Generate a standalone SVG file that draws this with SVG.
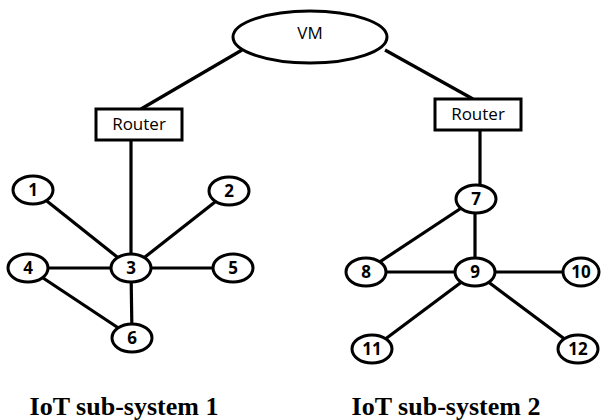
<svg xmlns="http://www.w3.org/2000/svg" width="602" height="420" viewBox="0 0 602 420">
  <style>
    .link { stroke: #000; stroke-width: 3.2; fill: none; }
    .shape { fill: #fff; stroke: #000; stroke-width: 3; }
    .lbl { font-family: "Open Sans", "Liberation Sans", Arial, sans-serif; font-size: 17px; text-anchor: middle; fill: #000; }
    .num { font-family: "Open Sans", "Liberation Sans", Arial, sans-serif; font-size: 17px; font-weight: bold; text-anchor: middle; fill: #000; }
    .cap { font-family: "Liberation Serif", "Times New Roman", serif; font-size: 26px; font-weight: bold; text-anchor: middle; fill: #000; }
  </style>
  <rect width="602" height="420" fill="#fff"/>

  <!-- connectors -->
  <g id="connectors">
    <line class="link" x1="242" y1="50" x2="141" y2="109"/>
    <line class="link" x1="385" y1="50" x2="473" y2="99"/>
    <line class="link" x1="131" y1="140" x2="131" y2="268"/>
    <line class="link" x1="33" y1="190" x2="131" y2="268"/>
    <line class="link" x1="229" y1="191" x2="131" y2="268"/>
    <line class="link" x1="28" y1="268" x2="233" y2="268"/>
    <line class="link" x1="131" y1="268" x2="132" y2="337"/>
    <line class="link" x1="28" y1="268" x2="132" y2="337"/>
    <line class="link" x1="480" y1="130" x2="480" y2="190"/>
    <line class="link" x1="475" y1="199" x2="475" y2="272"/>
    <line class="link" x1="475" y1="199" x2="366" y2="271"/>
    <line class="link" x1="366" y1="272" x2="580" y2="272"/>
    <line class="link" x1="475" y1="272" x2="372" y2="349"/>
    <line class="link" x1="475" y1="272" x2="578" y2="349"/>
  </g>

  <!-- VM -->
  <g id="vm">
    <ellipse class="shape" cx="310" cy="37" rx="77" ry="26"/>
    <text class="lbl" x="310" y="39">VM</text>
  </g>

  <!-- routers -->
  <g id="router1">
    <rect class="shape" x="96" y="109" width="86" height="31"/>
    <text class="lbl" x="139" y="130">Router</text>
  </g>
  <g id="router2">
    <rect class="shape" x="435" y="99" width="86" height="31"/>
    <text class="lbl" x="478" y="120">Router</text>
  </g>

  <!-- IoT sub-system 1 devices -->
  <g id="n1"><ellipse class="shape" cx="33" cy="190" rx="20" ry="14"/><text class="num" x="33" y="196">1</text></g>
  <g id="n2"><ellipse class="shape" cx="229" cy="191" rx="20" ry="14"/><text class="num" x="229" y="197">2</text></g>
  <g id="n3"><ellipse class="shape" cx="131" cy="268" rx="20" ry="14"/><text class="num" x="131" y="274">3</text></g>
  <g id="n4"><ellipse class="shape" cx="28" cy="268" rx="20" ry="14"/><text class="num" x="28" y="274">4</text></g>
  <g id="n5"><ellipse class="shape" cx="233" cy="268" rx="20" ry="14"/><text class="num" x="233" y="274">5</text></g>
  <g id="n6"><ellipse class="shape" cx="132" cy="338" rx="20" ry="14"/><text class="num" x="132" y="344">6</text></g>

  <!-- IoT sub-system 2 devices -->
  <g id="n7"><ellipse class="shape" cx="476" cy="199" rx="20" ry="14"/><text class="num" x="476" y="205">7</text></g>
  <g id="n8"><ellipse class="shape" cx="366" cy="272" rx="20" ry="14"/><text class="num" x="366" y="278">8</text></g>
  <g id="n9"><ellipse class="shape" cx="475" cy="272" rx="20" ry="14"/><text class="num" x="475" y="278">9</text></g>
  <g id="n10"><ellipse class="shape" cx="581" cy="272" rx="18" ry="14"/><text class="num" x="581" y="278">10</text></g>
  <g id="n11"><ellipse class="shape" cx="372" cy="349" rx="20" ry="14"/><text class="num" x="372" y="355">11</text></g>
  <g id="n12"><ellipse class="shape" cx="578" cy="349" rx="20" ry="14"/><text class="num" x="578" y="355">12</text></g>

  <!-- captions -->
  <text class="cap" x="124" y="415">IoT sub-system 1</text>
  <text class="cap" x="446" y="415">IoT sub-system 2</text>
</svg>
